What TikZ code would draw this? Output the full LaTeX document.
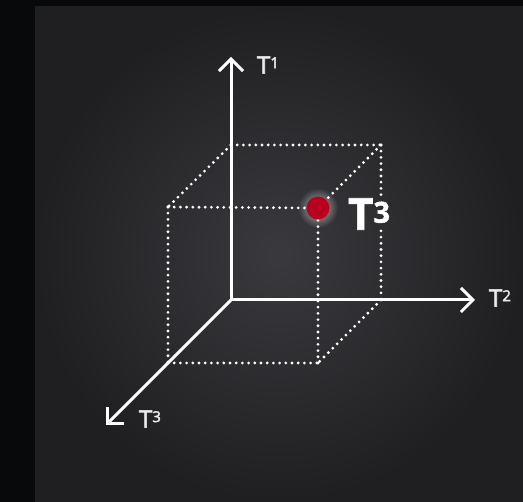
\documentclass[tikz,border=0pt]{standalone}
\usepackage{fontspec}
\setmainfont{Open Sans}
\newfontfamily\lblfont{Open Sans}[FakeBold=2.5]
\newfontfamily\bigfont{Open Sans}[BoldFeatures={FakeBold=1.5}]
\usepackage{xcolor}
\usetikzlibrary{arrows.meta,positioning,fadings}

\definecolor{frame}{HTML}{08090B}
\definecolor{panelin}{HTML}{3A3A3E}
\definecolor{panelout}{HTML}{1F1F22}
\definecolor{dotred}{HTML}{B8001F}

\tikzfading[name=glowfade, inner color=transparent!35, outer color=transparent!100]

% superscript raised to the top of the T
\newcommand{\axsup}[3]{\raisebox{#1}{\fontsize{#2}{#2}\selectfont #3}}

\begin{document}
\begin{tikzpicture}[
    x=1pt, y=-1pt,
    >={Straight Barb[length=12pt,width=24pt]},
    axis/.style={->, white, line width=3pt},
    edge/.style={white, line width=3.1pt, line cap=round,
                 dash pattern=on 0pt off 6.2pt},
    lbl/.style={text=white!92!black, inner sep=1pt,
                font=\lblfont\fontsize{24}{24}\selectfont},
    biglbl/.style={text=white, inner sep=1pt,
                   font=\bigfont\bfseries\fontsize{44}{44}\selectfont}
]

% --- Background: black frame, shaded panel ---
\fill[frame] (0,0) rectangle (523,502);
\shade[inner color=panelin, outer color=panelout] (35,7) rectangle (523,502);
\useasboundingbox (0,0) rectangle (523,502);

% --- Axes end points ---
\coordinate (o)  at (231,300);
\coordinate (t1) at (231,57);
\coordinate (t2) at (475,300);
\coordinate (t3) at (106,425);

% --- Cube corners (back face on the axes, front face shifted) ---
\coordinate (btl) at (231,145);
\coordinate (btr) at (381,145);
\coordinate (bbr) at (381,300);
\coordinate (ftl) at (168,207);
\coordinate (fbl) at (168,363);
\coordinate (fbr) at (318,363);
\coordinate (ftr) at (318,208);

% Labels
\node[lbl]    (l1) at (268,65)  {T\axsup{5.5pt}{15}{1}};
\node[lbl]    (l2) at (500,298) {T\axsup{5.5pt}{15}{2}};
\node[lbl]    (l3) at (150,419) {T\axsup{5.5pt}{15}{3}};
\node[biglbl] (big) at (369,214) {T\axsup{7pt}{29}{3}};

% Dotted cube edges
\draw[edge] (btl) -- (btr);
\draw[edge] (btr) -- (btr |- big.north);
\draw[edge] (bbr |- big.south) -- (bbr);
\draw[edge] (btl) -- (ftl);
\draw[edge] (btr) -- (ftr);
\draw[edge] (ftl) -- (ftr);
\draw[edge] (ftl) -- (fbl);
\draw[edge] (fbl) -- (fbr);
\draw[edge] (ftr) -- (fbr);
\draw[edge] (bbr) -- (fbr);

% Axes
\draw[axis] (o) -- (t1);
\draw[axis] (o) -- (t2);
\draw[axis] (o) -- (t3);

% --- Point with glow ---
\fill[white, path fading=glowfade] (ftr) circle (20);
\node[circle, fill=dotred, minimum size=23pt, inner sep=0pt] (pt) at (ftr) {};

\end{tikzpicture}
\end{document}
